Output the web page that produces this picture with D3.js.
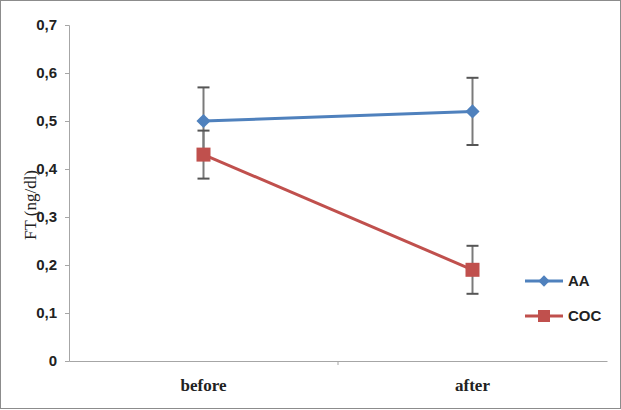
<!DOCTYPE html>
<html>
<head>
<meta charset="utf-8">
<script src="https://cdn.jsdelivr.net/npm/d3@7"></script>
<style>
body { margin: 0; background: white; }
</style>
</head>
<body>
<svg id="mysvg" width="621" height="410"></svg>
<script>
let categories = ["before", "after"];
let seriesNames = ["AA", "COC"];
let aaValues = [0.50, 0.52];
let aaErrors = [0.07, 0.07];
let cocValues = [0.43, 0.19];
let cocErrors = [0.05, 0.05];
let yTicks = [0, 0.1, 0.2, 0.3, 0.4, 0.5, 0.6, 0.7];

let colors = {AA: "#4f81bd", COC: "#c0504d"};

let svg = d3.select('#mysvg');

// outer frame
svg.append("rect")
    .attr("x", 0.5).attr("y", 0.5)
    .attr("width", 620).attr("height", 408)
    .attr("fill", "white")
    .attr("stroke", "#8c8c8c");

let x = d3.scaleBand().domain(categories).range([69, 607]);
let y = d3.scaleLinear().domain([0, 0.7]).range([361, 25]);

// y axis
let yAxis = svg.append("g")
    .attr("transform", "translate(69,0)")
    .call(d3.axisLeft(y).tickValues(yTicks).tickSize(4).tickPadding(8)
        .tickFormat(d => d == 0 ? "0" : d3.format(".1f")(d).replace(".", ",")));
yAxis.select(".domain").attr("stroke", "#a6a6a6");
yAxis.selectAll(".tick line").attr("stroke", "#a6a6a6");
yAxis.selectAll("text")
    .attr("fill", "#222")
    .style("font-family", "Liberation Sans, Arial, sans-serif")
    .style("font-weight", "bold")
    .style("font-size", "15px");

// x axis
let xAxis = svg.append("g")
    .attr("transform", "translate(0,361)")
    .call(d3.axisBottom(x).tickSize(0).tickPadding(18));
xAxis.select(".domain").attr("stroke", "#a6a6a6");
xAxis.selectAll("text")
    .attr("fill", "#222")
    .style("font-family", "Liberation Serif, Times New Roman, serif")
    .style("font-weight", "bold")
    .style("font-size", "17px");
// tick between categories
svg.append("line")
    .attr("x1", x("after")).attr("x2", x("after"))
    .attr("y1", 361).attr("y2", 365)
    .attr("stroke", "#a6a6a6");

// y label
svg.append("text")
    .attr("transform", "translate(36,205) rotate(-90)")
    .attr("text-anchor", "middle")
    .attr("fill", "#222")
    .style("font-family", "Liberation Serif, Times New Roman, serif")
    .style("font-size", "17px")
    .text("FT (ng/dl)");

let cx = d => x(d) + x.bandwidth() / 2;

let series = [
    {name: "AA", values: aaValues, errors: aaErrors},
    {name: "COC", values: cocValues, errors: cocErrors}
];

// error bars
series.forEach(function(s) {
    let g = svg.append("g").attr("class", "err");
    categories.forEach(function(c, i) {
        let lo = y(s.values[i] - s.errors[i]);
        let hi = y(s.values[i] + s.errors[i]);
        g.append("line")
            .attr("x1", cx(c)).attr("x2", cx(c))
            .attr("y1", lo).attr("y2", hi)
            .attr("stroke", "#7a7a7a").attr("stroke-width", 2);
        [lo, hi].forEach(function(v) {
            g.append("line")
                .attr("x1", cx(c) - 6).attr("x2", cx(c) + 6)
                .attr("y1", v).attr("y2", v)
                .attr("stroke", "#555").attr("stroke-width", 2);
        });
    });
});

let line = d3.line()
    .x((d, i) => cx(categories[i]))
    .y(d => y(d));

series.forEach(function(s) {
    svg.append("path")
        .attr("d", line(s.values))
        .attr("fill", "none")
        .attr("stroke", colors[s.name])
        .attr("stroke-width", 3);
    categories.forEach(function(c, i) {
        if (s.name == "AA")
            svg.append("rect")
                .attr("x", -5).attr("y", -5)
                .attr("width", 10).attr("height", 10)
                .attr("transform", "translate(" + cx(c) + "," + y(s.values[i]) + ") rotate(45)")
                .attr("fill", colors[s.name]);
        else
            svg.append("rect")
                .attr("x", cx(c) - 7).attr("y", y(s.values[i]) - 7)
                .attr("width", 14).attr("height", 14)
                .attr("fill", colors[s.name]);
    });
});

// legend
let legend = svg.selectAll("g.legend")
    .data(seriesNames)
    .enter()
    .append("g")
    .attr("class", "legend")
    .attr("transform", (d, i) => "translate(525," + (281 + i * 35) + ")");

legend.append("line")
    .attr("x1", 0).attr("x2", 38)
    .attr("stroke", d => colors[d])
    .attr("stroke-width", 3);
legend.filter(d => d == "AA").append("rect")
    .attr("x", -4).attr("y", -4)
    .attr("width", 8).attr("height", 8)
    .attr("transform", "translate(19,0) rotate(45)")
    .attr("fill", d => colors[d]);
legend.filter(d => d == "COC").append("rect")
    .attr("x", 13).attr("y", -6)
    .attr("width", 12).attr("height", 12)
    .attr("fill", d => colors[d]);
legend.append("text")
    .attr("x", 43)
    .attr("dy", "0.36em")
    .attr("fill", "#222")
    .style("font-family", "Liberation Sans, Arial, sans-serif")
    .style("font-weight", "bold")
    .style("font-size", "15px")
    .text(d => d);
</script>
</body>
</html>
